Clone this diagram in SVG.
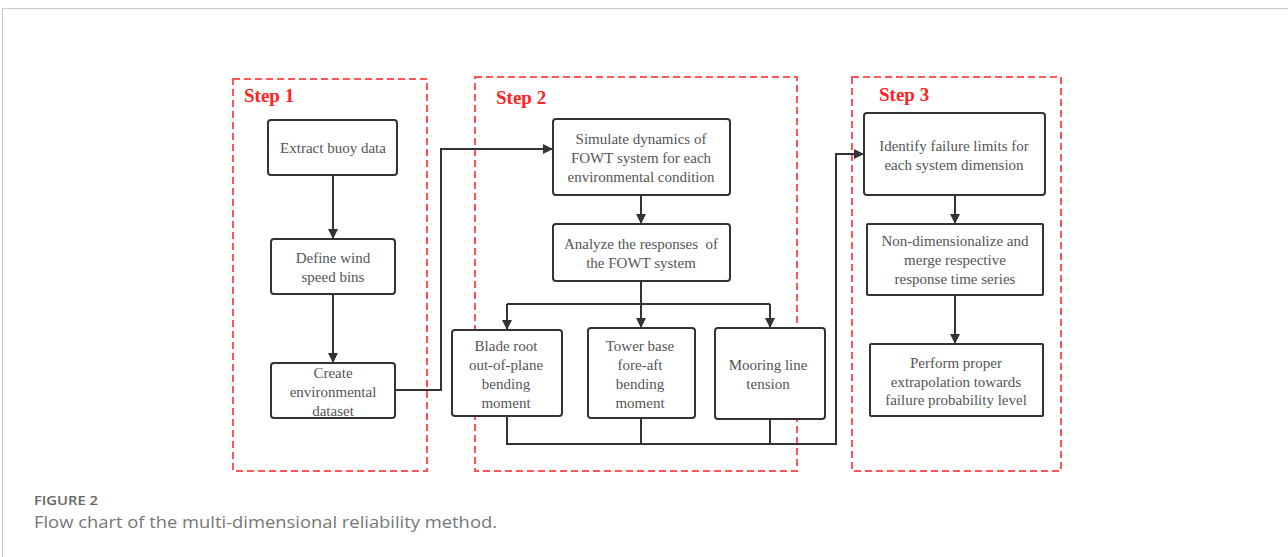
<svg xmlns="http://www.w3.org/2000/svg" width="1288" height="557" viewBox="0 0 1288 557">
<defs>
<marker id="ah" markerWidth="10" markerHeight="10" refX="9" refY="5" orient="auto" markerUnits="userSpaceOnUse">
<path d="M0,0 L10,5 L0,10 Z" fill="#333"/>
</marker>
<style>
.frame{fill:none;stroke:#c8c8c8;stroke-width:1}
.step{fill:none;stroke:#f55;stroke-width:2;stroke-dasharray:7 4}
.steplbl{font-family:"Liberation Serif",serif;font-weight:bold;font-size:19px;fill:#f22}
.node rect{fill:#fff;stroke:#333;stroke-width:2}
.node text{font-family:"Liberation Serif",serif;font-size:15px;fill:#555;text-anchor:middle}
.conn path{fill:none;stroke:#333;stroke-width:2}
.cap1{font-family:"Open Sans",sans-serif;font-size:12px;fill:#666;font-weight:600}
.cap2{font-family:"Open Sans",sans-serif;font-size:17px;fill:#777}
</style>
</defs>
<rect width="1288" height="557" fill="#fff"/>
<path class="frame" d="M2.5,557 L2.5,8.5 L1288,8.5"/>

<g id="step1"><rect class="step" x="233" y="79" width="194" height="392"/><text class="steplbl" x="244" y="102">Step 1</text></g>
<g id="step2"><rect class="step" x="475" y="77" width="322" height="394"/><text class="steplbl" x="496" y="104">Step 2</text></g>
<g id="step3"><rect class="step" x="852" y="77" width="209" height="394"/><text class="steplbl" x="879" y="101">Step 3</text></g>

<g id="connectors" class="conn">
<path d="M333,175 L333,238" marker-end="url(#ah)"/>
<path d="M333,294 L333,362" marker-end="url(#ah)"/>
<path d="M395,390 L441,390 L441,149 L552,149" marker-end="url(#ah)"/>
<path d="M641,195 L641,223" marker-end="url(#ah)"/>
<path d="M641,281 L641,327" marker-end="url(#ah)"/>
<path d="M507,304 L770,304"/>
<path d="M507,304 L507,329" marker-end="url(#ah)"/>
<path d="M770,304 L770,327" marker-end="url(#ah)"/>
<path d="M507,416 L507,444 L836,444 L836,154 L863,154" marker-end="url(#ah)"/>
<path d="M641,418 L641,444"/>
<path d="M770,419 L770,444"/>
<path d="M955,195 L955,223" marker-end="url(#ah)"/>
<path d="M955,295 L955,343" marker-end="url(#ah)"/>
</g>

<g id="n_extract" class="node"><rect x="268" y="120" width="129" height="55" rx="3"/><text x="333" y="153">Extract buoy data</text></g>
<g id="n_define" class="node"><rect x="271" y="239" width="124" height="55" rx="3"/><text x="333" y="263">Define wind</text><text x="333" y="282">speed bins</text></g>
<g id="n_create" class="node"><rect x="271" y="363" width="124" height="55" rx="3"/><text x="333" y="378">Create</text><text x="333" y="397">environmental</text><text x="333" y="416">dataset</text></g>

<g id="n_simulate" class="node"><rect x="553" y="119" width="177" height="76" rx="3"/><text x="641" y="144">Simulate dynamics of</text><text x="641" y="163">FOWT system for each</text><text x="641" y="182">environmental condition</text></g>
<g id="n_analyze" class="node"><rect x="553" y="224" width="177" height="57" rx="3"/><text x="641" y="249" xml:space="preserve">Analyze the responses  of</text><text x="641" y="268">the FOWT system</text></g>
<g id="n_blade" class="node"><rect x="452" y="330" width="110" height="86" rx="3"/><text x="506" y="351">Blade root</text><text x="506" y="370">out-of-plane</text><text x="506" y="389">bending</text><text x="506" y="408">moment</text></g>
<g id="n_tower" class="node"><rect x="588" y="328" width="107" height="90" rx="3"/><text x="640" y="351">Tower base</text><text x="640" y="370">fore-aft</text><text x="640" y="389">bending</text><text x="640" y="408">moment</text></g>
<g id="n_mooring" class="node"><rect x="715" y="328" width="110" height="91" rx="3"/><text x="768" y="370">Mooring line</text><text x="768" y="389">tension</text></g>

<g id="n_identify" class="node"><rect x="864" y="113" width="181" height="82" rx="3"/><text x="954" y="151">Identify failure limits for</text><text x="954" y="170">each system dimension</text></g>
<g id="n_nondim" class="node"><rect x="867" y="224" width="176" height="71" rx="1"/><text x="955" y="246">Non-dimensionalize and</text><text x="955" y="265">merge respective</text><text x="955" y="284">response time series</text></g>
<g id="n_perform" class="node"><rect x="870" y="344" width="173" height="72" rx="1"/><text x="956" y="368">Perform proper</text><text x="956" y="387">extrapolation towards</text><text x="956" y="405">failure probability level</text></g>

<text class="cap1" x="34" y="505" textLength="64" lengthAdjust="spacingAndGlyphs">FIGURE 2</text>
<text class="cap2" x="34" y="528" textLength="463" lengthAdjust="spacingAndGlyphs">Flow chart of the multi-dimensional reliability method.</text>
</svg>
